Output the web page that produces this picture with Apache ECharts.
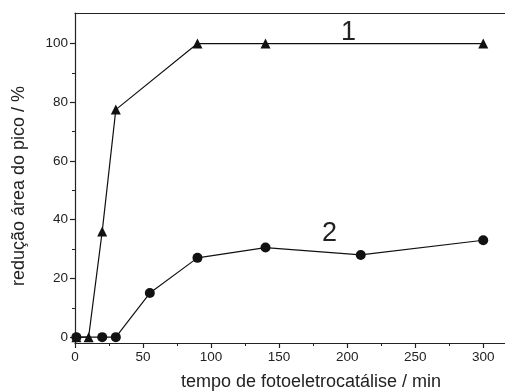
<!DOCTYPE html>
<html>
<head>
<meta charset="utf-8">
<script src="https://cdn.jsdelivr.net/npm/echarts@6/dist/echarts.min.js"></script>
<style>html,body{margin:0;padding:0;background:#fff}#c{width:505px;height:391px}</style>
</head>
<body>
<div id="c"></div>
<script>
// Series 1 (triangles)
const s1X = [1, 10, 20, 30, 90, 140, 300];
const s1Y = [0, 0, 36, 77.5, 100, 100, 100];
// Series 2 (circles)
const s2X = [1, 20, 30, 55, 90, 140, 210, 300];
const s2Y = [0, 0, 0, 15, 27, 30.5, 28, 33];
// Axis ticks
const xMajor = [0, 50, 100, 150, 200, 250, 300];
const xMinor = [25, 75, 125, 175, 225, 275];
const yMajor = [0, 20, 40, 60, 80, 100];
const yMinor = [10, 30, 50, 70, 90];
const xTitle = 'tempo de fotoeletrocatálise / min';
const yTitle = 'redução área do pico / %';
const seriesLabels = ['1', '2'];
const labelPos = [[201, 103.8], [187, 35.3]];

const FONT = 'Liberation Sans, Arial, sans-serif';
const chart = echarts.init(document.getElementById('c'));
const grid = {left: 75, top: 13, right: 0, bottom: 48};
const xRange = {min: 0, max: 316};
const yRange = {min: -2, max: 110.4};
const pair = (xs, ys) => xs.map((x, i) => [x, ys[i]]);

chart.setOption({
  animation: false,
  backgroundColor: '#fff',
  grid: grid,
  xAxis: [
    {type: 'value', ...xRange, position: 'bottom',
     axisLine: {show: true, onZero: false, lineStyle: {color: '#222', width: 1.2}},
     axisTick: {show: true, customValues: xMajor, length: 5, inside: false, lineStyle: {color: '#222', width: 1.2}},
     axisLabel: {show: true, customValues: xMajor, margin: 7, fontSize: 13.5, color: '#222', fontFamily: FONT},
     splitLine: {show: false}},
    {type: 'value', ...xRange, position: 'bottom', gridIndex: 0,
     axisLine: {show: false, onZero: false},
     axisTick: {show: true, customValues: xMinor, length: 3, lineStyle: {color: '#222', width: 1}},
     axisLabel: {show: false}, splitLine: {show: false}},
    {type: 'value', ...xRange, position: 'top',
     axisLine: {show: true, onZero: false, lineStyle: {color: '#222', width: 1.2}},
     axisTick: {show: false}, axisLabel: {show: false}, splitLine: {show: false}}
  ],
  yAxis: [
    {type: 'value', ...yRange, position: 'left',
     axisLine: {show: true, onZero: false, lineStyle: {color: '#222', width: 1.2}},
     axisTick: {show: true, customValues: yMajor, length: 5, lineStyle: {color: '#222', width: 1.2}},
     axisLabel: {show: true, customValues: yMajor, margin: 7, fontSize: 13.5, color: '#222', fontFamily: FONT},
     splitLine: {show: false}},
    {type: 'value', ...yRange, position: 'left',
     axisLine: {show: false, onZero: false},
     axisTick: {show: true, customValues: yMinor, length: 3, lineStyle: {color: '#222', width: 1}},
     axisLabel: {show: false}, splitLine: {show: false}}
  ],
  series: [
    {type: 'line', data: pair(s1X, s1Y), symbol: 'triangle', symbolSize: 10,
     lineStyle: {color: '#111', width: 1.2}, itemStyle: {color: '#111'}, z: 3,
     markPoint: {symbol: 'circle', symbolSize: 0, silent: true,
       label: {show: true, formatter: seriesLabels[0], fontSize: 27, color: '#222', fontFamily: FONT, position: 'inside'},
       data: [{coord: labelPos[0]}]}},
    {type: 'line', data: pair(s2X, s2Y), symbol: 'circle', symbolSize: 10,
     lineStyle: {color: '#111', width: 1.2}, itemStyle: {color: '#111'}, z: 4,
     markPoint: {symbol: 'circle', symbolSize: 0, silent: true,
       label: {show: true, formatter: seriesLabels[1], fontSize: 27, color: '#222', fontFamily: FONT, position: 'inside'},
       data: [{coord: labelPos[1]}]}}
  ],
  graphic: [
    {type: 'text', x: 311, y: 382, style: {text: xTitle, fontSize: 18, fontFamily: FONT, fill: '#222', align: 'center', verticalAlign: 'middle'}},
    {type: 'text', x: 19, y: 186, rotation: Math.PI / 2, style: {text: yTitle, fontSize: 18, fontFamily: FONT, fill: '#222', align: 'center', verticalAlign: 'middle'}}
  ]
});
</script>
</body>
</html>
